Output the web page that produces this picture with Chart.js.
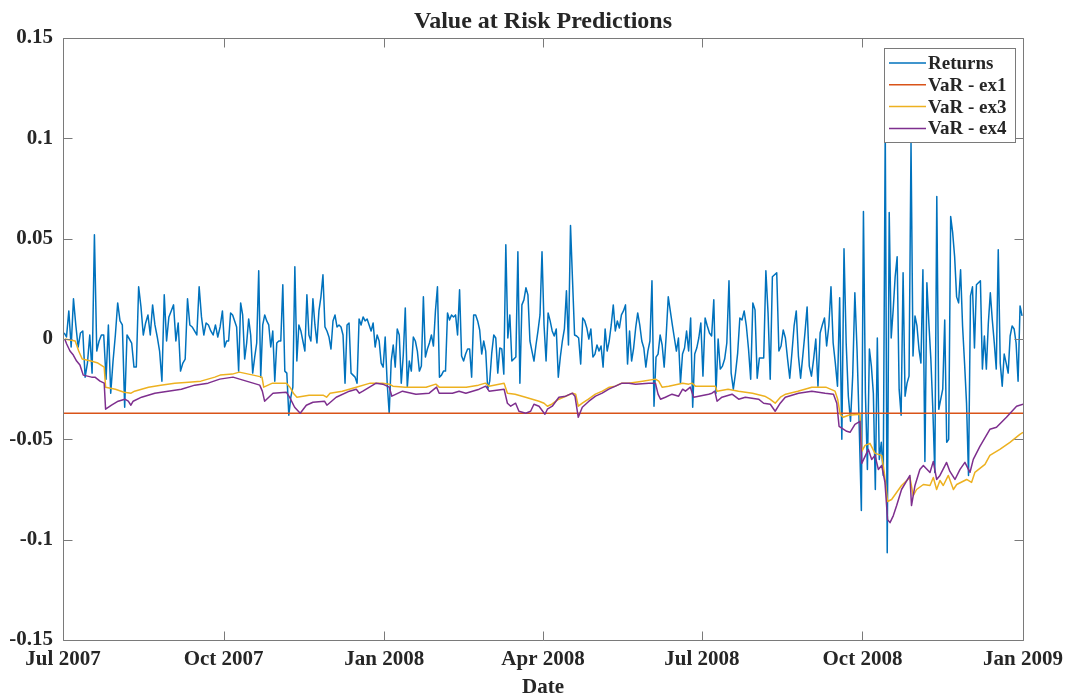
<!DOCTYPE html>
<html>
<head>
<meta charset="utf-8">
<script src="https://cdn.jsdelivr.net/npm/chart.js@4.4.1/dist/chart.umd.min.js"></script>
<style>
html,body{margin:0;padding:0;background:#fff;}
#wrap{width:1070px;height:698px;}
</style>
</head>
<body>
<div id="wrap"><canvas id="c" width="1070" height="698"></canvas></div>
<script>
// ---------- data (days counted from 1 Jul 2007) ----------
const xTickDays = [0, 92, 184, 275, 366, 458, 550];
const xTickLabels = ['Jul 2007', 'Oct 2007', 'Jan 2008', 'Apr 2008', 'Jul 2008', 'Oct 2008', 'Jan 2009'];
const yTickValues = [-0.15, -0.1, -0.05, 0, 0.05, 0.1, 0.15];
const yTickLabels = ['-0.15', '-0.1', '-0.05', '0', '0.05', '0.1', '0.15'];
const quarterStarts = [0, 92, 184, 275, 366, 458];
const quarterEnds = [92, 184, 275, 366, 458, 550];

// daily returns, one array per quarter
const returns2007Q3 = [0.003, 0.001, 0.014, -0.004, 0.020, 0.007, -0.004, 0.003, 0.004, -0.019,
  -0.012, 0.002, -0.017, 0.052, -0.006, -0.001, 0.002, 0.002, -0.020, 0.007,
  -0.027, -0.011, 0.002, 0.018, 0.009, 0.007, -0.034, 0.002, 0.000, -0.002,
  -0.014, -0.014, 0.026, 0.016, 0.002, 0.008, 0.012, 0.002, 0.017, 0.007,
  0.001, -0.006, -0.021, 0.022, -0.001, 0.011, 0.014, 0.017, -0.001, 0.008,
  -0.016, -0.012, -0.010, 0.020, 0.007, 0.006, 0.004, 0.002, 0.026, 0.011,
  0.002, 0.008, 0.007, 0.004, 0.002, 0.007, 0.001, 0.006, 0.014];
const returns2007Q4 = [-0.004, -0.001, -0.001, 0.013, 0.012, 0.009, 0.006, -0.016, 0.018, 0.012,
  -0.010, -0.002, 0.010, 0.002, -0.017, -0.009, -0.002, 0.034, -0.019, 0.007,
  0.012, 0.009, 0.007, -0.004, 0.004, -0.021, -0.002, -0.001, -0.001, 0.027,
  -0.016, -0.017, -0.038, -0.029, -0.024, 0.036, -0.011, 0.007, 0.004, -0.001,
  -0.006, 0.022, 0.002, -0.001, 0.020, 0.007, -0.002, 0.014, 0.021, 0.032,
  0.006, 0.004, 0.001, -0.005, 0.009, 0.012, 0.006, 0.007, 0.006, 0.002,
  -0.022, 0.007, 0.008, -0.017, -0.018, -0.019, -0.022, 0.010, 0.007, 0.011,
  0.009, 0.010, 0.007, 0.004, 0.008, -0.004, 0.002, -0.001, -0.012, -0.014];
const returns2008Q1 = [0.001, -0.022, -0.037, -0.011, -0.003, -0.014, 0.005, 0.002, -0.022, -0.008,
  0.0155, -0.024, -0.011, -0.016, 0.001, -0.001, -0.006, -0.016, -0.0135, 0.021,
  -0.009, -0.005, -0.002, 0.002, -0.0035, 0.014, 0.026, -0.019, -0.018, -0.016,
  -0.016, 0.013, 0.0095, 0.012, 0.011, 0.012, 0.002, 0.0245, -0.0085, -0.011,
  -0.0075, -0.005, -0.005, -0.019, 0.012, 0.012, 0.009, 0.0045, -0.0075, -0.001,
  -0.006, -0.025, -0.021, -0.007, 0.002, 0.0005, -0.017, -0.0045, -0.005, -0.0175,
  0.047, 0.0005, 0.012, -0.011, -0.010, -0.009, 0.0435, -0.022, 0.017, 0.0195,
  0.0255, 0.022, -0.001, -0.006, -0.011, -0.003, 0.004, 0.012, 0.0435];
const returns2008Q2 = [0.007, -0.011, 0.013, 0.009, 0.004, 0.0015, 0.005, -0.019, -0.009, -0.001,
  0.005, 0.024, -0.003, 0.0565, 0.029, 0.002, 0.0015, 0.0005, -0.0125, 0.0105,
  0.009, 0.0055, 0.000, 0.005, -0.009, -0.0075, -0.003, -0.006, -0.0035, -0.014,
  0.005, -0.006, -0.001, 0.007, 0.017, 0.004, 0.009, 0.0055, 0.012, 0.014,
  0.017, -0.0125, 0.004, -0.011, -0.0045, 0.0055, 0.013, 0.007, -0.001, -0.0045,
  -0.014, -0.006, -0.001, 0.029, -0.0335, -0.009, -0.0075, 0.002, -0.003, -0.014,
  0.002, 0.021, 0.014, 0.007, 0.0005, -0.006, 0.0005, -0.022, -0.0075, -0.0045,
  0.004, -0.006, 0.0105, -0.034, -0.0075, -0.0045, 0.0005, 0.008];
const returns2008Q3 = [-0.0185, 0.0105, 0.0065, 0.003, 0.0015, 0.0195, -0.027, 0.000, -0.015, -0.0135,
  -0.010, -0.002, 0.029, -0.017, -0.025, -0.017, -0.007, 0.0105, 0.0095, 0.014,
  0.0065, -0.005, -0.020, 0.018, 0.0145, -0.0195, -0.0095, -0.0095, -0.0095, 0.034,
  0.013, -0.020, 0.031, 0.032, 0.033, -0.006, -0.0035, 0.0045, 0.0005, -0.010,
  -0.0195, -0.007, 0.0065, 0.014, -0.0085, -0.0195, -0.0085, 0.003, 0.016, -0.0135,
  -0.0185, -0.010, 0.000, -0.0235, 0.003, 0.007, 0.0105, -0.0035, 0.0065, 0.026,
  -0.002, -0.012, -0.0235, 0.0205, -0.050, 0.045, -0.002, -0.0285, -0.041, -0.0185,
  0.023, -0.005, -0.043, -0.0855];
const returns2008Q4 = [0.0635, -0.027, -0.065, -0.005, -0.0135, -0.027, -0.075, 0.0005, -0.060, -0.0515,
  -0.068, 0.106, -0.1065, 0.063, 0.0005, 0.0145, 0.031, 0.041, -0.025,
  -0.038, 0.033, -0.0285, -0.022, -0.0185, 0.0975, -0.0085, 0.0115, 0.0065, -0.005,
  -0.012, 0.0345, -0.061, 0.028, 0.008, -0.010, -0.035, -0.0665, 0.071, -0.035,
  -0.030, -0.025, 0.0095, -0.0515, -0.050, 0.061, 0.053, 0.041, 0.021, 0.018,
  0.0345, 0.0065, -0.012, -0.032, -0.068, 0.0215, 0.026, -0.0045, 0.027, 0.028,
  0.029, -0.015, 0.0015, -0.015, 0.008, 0.023, 0.0095, -0.002, -0.015, 0.0445,
  -0.012, -0.0235, -0.0075, -0.012, -0.017, 0.0015, 0.0065, 0.005, -0.002, -0.021,
  0.0165, 0.0115];

// VaR - ex1: constant level
const var1Days = [0, 550];
const var1Vals = [-0.037, -0.037];

// VaR - ex3
const var3Days = [1, 7, 9, 11, 16, 20, 23.6, 24.4, 30, 35, 39, 41, 49, 56, 64, 72, 79, 87,
  90, 97, 101, 109, 114, 115, 120, 128, 130, 132, 134, 141, 149, 151, 153, 160, 168, 176,
  183, 187, 189, 196, 208, 213.6, 215.5, 223, 231, 238, 242, 244, 252.7, 254.6, 259, 265, 272.7,
  275.6, 277.5, 280, 284, 288, 292, 293.7, 295.2, 297.5, 301, 305, 309, 313, 316.5, 320, 324,
  332, 339.4, 341.3, 343.2, 347, 355, 358.5, 360.4, 362.3, 370, 373.7, 374.7, 381, 387, 395,
  402, 405, 408, 411, 414, 421, 429, 437, 442.3, 443.8, 445.2, 447, 450, 456.6, 457.6, 459.5,
  462.3, 465.2, 469, 470.5, 472.4, 474.7, 480.4, 485.2, 487.1, 489, 492.9, 496.7, 498.6, 500.5,
  502.4, 504.3, 507.2, 510.1, 512, 517.7, 520.5, 522.4, 528.2, 531, 536.7, 542.5, 548.2, 550];
const var3Vals = [0.000, -0.001, -0.006, -0.010, -0.011, -0.012, -0.014, -0.024, -0.025, -0.0265, -0.027, -0.026, -0.024, -0.023, -0.022, -0.0215, -0.021, -0.019,
  -0.018, -0.0175, -0.0165, -0.018, -0.019, -0.024, -0.022, -0.022, -0.024, -0.027, -0.029, -0.028, -0.028, -0.029, -0.027, -0.026, -0.024, -0.022,
  -0.022, -0.0225, -0.0235, -0.024, -0.024, -0.0225, -0.024, -0.024, -0.024, -0.023, -0.022, -0.0235, -0.022, -0.027, -0.0275, -0.029, -0.031,
  -0.032, -0.0335, -0.0325, -0.030, -0.0285, -0.027, -0.0275, -0.0335, -0.032, -0.030, -0.0275, -0.026, -0.024, -0.0235, -0.022, -0.022,
  -0.021, -0.020, -0.021, -0.024, -0.0235, -0.022, -0.0225, -0.022, -0.0235, -0.0235, -0.0235, -0.026, -0.025, -0.026, -0.027,
  -0.0285, -0.030, -0.032, -0.029, -0.0275, -0.026, -0.024, -0.024, -0.026, -0.030, -0.0375, -0.039, -0.038, -0.0375, -0.056, -0.053,
  -0.052, -0.057, -0.058, -0.0665, -0.081, -0.080, -0.073, -0.069, -0.078, -0.075, -0.0725, -0.073, -0.069, -0.075,
  -0.0705, -0.073, -0.068, -0.075, -0.0725, -0.070, -0.0715, -0.0665, -0.0625, -0.058, -0.055, -0.0515, -0.0475, -0.0465];

// VaR - ex4
const var4Days = [1, 2.1, 4, 5.9, 7.8, 9.7, 11.6, 16.4, 18.3, 21.2, 23.6, 24.4, 27.8, 31.6, 35.4, 37.4, 38.9, 40.2,
  45, 52.6, 60.2, 67.8, 75.5, 83.1, 89.8, 97.4, 101.2, 108.9, 112.7, 114.2, 115.5, 120.3, 127.9, 129.8, 132.7, 135.9,
  139.4, 143.2, 149.8, 151.2, 156.5, 164.1, 168, 169.8, 171.8, 179.4, 183.2, 186.9, 188.4, 194.5, 202.2, 209.8, 214,
  215.5, 223.1, 226.9, 230.8, 238.4, 242.2, 244.1, 252.7, 254.6, 256.5, 259.3, 261.2, 265.1, 267.9, 269.8, 272.7,
  276.1, 277.5, 280.3, 284.1, 288, 291.8, 293.3, 295.2, 297.5, 301.3, 305.1, 308.9, 312.7, 316.5, 320.3, 324.2, 328,
  335.6, 339.4, 340.9, 342.3, 345.1, 348.9, 352.7, 355, 356.6, 359.4, 361.3, 364.2, 369.9, 371.8, 373.4, 374.7, 377.5,
  383.3, 387.1, 390.9, 398.5, 401.4, 405.2, 408, 410.9, 413.8, 421.4, 429, 436.6, 441.4, 443.3, 444.6, 449, 450.9,
  453.7, 456.6, 457.6, 461.4, 463.3, 465.2, 467.1, 469, 470.9, 472.4, 473.8, 475.7, 477.6, 480.4, 485.2, 486.1, 488.1,
  490.9, 492.9, 496.7, 498.6, 500.5, 502.4, 506.2, 508.1, 511, 513.9, 516.7, 519.6, 521.5, 525.3, 531, 534.8, 540.5,
  546.3, 550];
const var4Vals = [0.000, -0.0025, -0.006, -0.008, -0.011, -0.013, -0.018, -0.019, -0.019, -0.021, -0.022, -0.035, -0.033, -0.031, -0.030, -0.031, -0.033, -0.031,
  -0.029, -0.027, -0.026, -0.025, -0.023, -0.022, -0.020, -0.019, -0.020, -0.022, -0.023, -0.026, -0.031, -0.027, -0.0265, -0.029, -0.034, -0.037,
  -0.033, -0.0315, -0.031, -0.033, -0.029, -0.026, -0.025, -0.027, -0.026, -0.022, -0.0225, -0.024, -0.0285, -0.026, -0.0275, -0.027, -0.024,
  -0.027, -0.027, -0.026, -0.027, -0.025, -0.0235, -0.026, -0.025, -0.032, -0.0335, -0.032, -0.036, -0.037, -0.036, -0.0325, -0.0335,
  -0.0375, -0.035, -0.0335, -0.029, -0.0285, -0.027, -0.0285, -0.039, -0.034, -0.031, -0.0285, -0.027, -0.025, -0.0235, -0.022, -0.022, -0.0225,
  -0.022, -0.022, -0.0275, -0.030, -0.029, -0.0275, -0.0285, -0.025, -0.026, -0.024, -0.029, -0.0285, -0.0275, -0.027, -0.026, -0.031, -0.029,
  -0.0275, -0.030, -0.029, -0.030, -0.032, -0.0325, -0.036, -0.032, -0.029, -0.027, -0.026, -0.027, -0.0275, -0.032, -0.0435, -0.046, -0.0465,
  -0.0425, -0.041, -0.062, -0.055, -0.060, -0.058, -0.065, -0.063, -0.0715, -0.090, -0.0915, -0.088, -0.083, -0.075, -0.068, -0.083, -0.073,
  -0.065, -0.063, -0.0665, -0.061, -0.070, -0.068, -0.0615, -0.066, -0.070, -0.065, -0.0615, -0.0665, -0.060, -0.0535, -0.045, -0.044, -0.039,
  -0.0335, -0.0325];

// ---------- building the chart ----------
const fontFamily = "'Liberation Serif', 'Times New Roman', serif";
Chart.defaults.font.family = fontFamily;
Chart.defaults.font.weight = 'bold';
Chart.defaults.color = '#262626';

const returnQuarters = [returns2007Q3, returns2007Q4, returns2008Q1, returns2008Q2, returns2008Q3, returns2008Q4];
function dailyPoints(quarters) {
  const pts = [];
  quarters.forEach((vals, q) => {
    const s = quarterStarts[q], len = quarterEnds[q] - s;
    vals.forEach((v, i) => pts.push({x: s + (i + 0.5) * len / vals.length, y: v}));
  });
  return pts;
}
function zipPoints(days, vals) { return days.map((d, i) => ({x: d, y: vals[i]})); }

const axesBox = {
  id: 'axesBox',
  afterDatasetsDraw(chart) {
    const {ctx, chartArea: a, scales} = chart;
    const x = scales.x, y = scales.y;
    ctx.save();
    ctx.strokeStyle = '#7a7a7a';
    ctx.lineWidth = 1;
    ctx.beginPath();
    const L = Math.round(a.left) + 0.5, R = Math.round(a.right) + 0.5, T = Math.round(a.top) + 0.5, B = Math.round(a.bottom) + 0.5;
    ctx.moveTo(L, T); ctx.lineTo(R, T); ctx.lineTo(R, B); ctx.lineTo(L, B); ctx.closePath();
    const tl = 9;
    xTickDays.forEach(d => {
      const px = Math.round(x.getPixelForValue(d)) + 0.5;
      ctx.moveTo(px, B); ctx.lineTo(px, B - tl);
      ctx.moveTo(px, T); ctx.lineTo(px, T + tl);
    });
    yTickValues.forEach(v => {
      const py = Math.round(y.getPixelForValue(v)) + 0.5;
      ctx.moveTo(L, py); ctx.lineTo(L + tl, py);
      ctx.moveTo(R, py); ctx.lineTo(R - tl, py);
    });
    ctx.stroke();
    ctx.restore();
  }
};

const insetLegend = {
  id: 'insetLegend',
  afterDraw(chart) {
    const {ctx, chartArea: a} = chart;
    const w = 131, h = 94;
    const left = Math.round(a.right) - 8 - w, top = Math.round(a.top) + 10;
    ctx.save();
    ctx.fillStyle = '#ffffff';
    ctx.fillRect(left, top, w, h);
    ctx.strokeStyle = '#7a7a7a';
    ctx.lineWidth = 1;
    ctx.strokeRect(left + 0.5, top + 0.5, w, h);
    ctx.font = 'bold 19px ' + fontFamily;
    ctx.textBaseline = 'middle';
    ctx.textAlign = 'left';
    chart.data.datasets.forEach((ds, i) => {
      const cy = top + 15 + i * 21.8;
      ctx.strokeStyle = ds.borderColor;
      ctx.lineWidth = 1.5;
      ctx.beginPath(); ctx.moveTo(left + 5, cy); ctx.lineTo(left + 42, cy); ctx.stroke();
      ctx.fillStyle = '#262626';
      ctx.fillText(ds.label, left + 44, cy + 1);
    });
    ctx.restore();
  }
};

new Chart(document.getElementById('c'), {
  type: 'line',
  data: {
    datasets: [
      {label: 'Returns', data: dailyPoints(returnQuarters), borderColor: '#0072BD', order: 3},
      {label: 'VaR - ex1', data: zipPoints(var1Days, var1Vals), borderColor: '#D95319', order: 2},
      {label: 'VaR - ex3', data: zipPoints(var3Days, var3Vals), borderColor: '#EDB120', order: 1},
      {label: 'VaR - ex4', data: zipPoints(var4Days, var4Vals), borderColor: '#7E2F8E', order: 0}
    ]
  },
  options: {
    responsive: false,
    animation: false,
    devicePixelRatio: 1,
    layout: {padding: {top: 0, right: 45, bottom: 0, left: 0}},
    elements: {
      line: {borderWidth: 1.5, tension: 0, fill: false, borderJoinStyle: 'round'},
      point: {radius: 0, hoverRadius: 0}
    },
    plugins: {
      legend: {display: false},
      tooltip: {enabled: false},
      title: {
        display: true,
        text: 'Value at Risk Predictions',
        fullSize: false,
        font: {size: 24, weight: 'bold', family: fontFamily},
        color: '#262626',
        padding: {top: 7.6, bottom: 1.6}
      }
    },
    scales: {
      x: {
        type: 'linear',
        min: 0,
        max: 550,
        afterBuildTicks: s => { s.ticks = xTickDays.map(v => ({value: v})); },
        afterFit: s => { s.height = 58; },
        ticks: {
          autoSkip: false, maxRotation: 0, padding: 7,
          font: {size: 21, weight: 'bold', family: fontFamily},
          color: '#262626',
          callback: v => xTickLabels[xTickDays.indexOf(v)]
        },
        grid: {display: false, drawTicks: false},
        border: {display: false},
        title: {display: true, text: 'Date', font: {size: 21, weight: 'bold', family: fontFamily}, color: '#262626', padding: {top: 0, bottom: -2}}
      },
      y: {
        type: 'linear',
        min: -0.15,
        max: 0.15,
        afterBuildTicks: s => { s.ticks = yTickValues.map(v => ({value: v})); },
        afterFit: s => { s.width = 63; },
        ticks: {
          padding: 10,
          font: {size: 21, weight: 'bold', family: fontFamily},
          color: '#262626',
          callback: v => yTickLabels[yTickValues.indexOf(v)]
        },
        grid: {display: false, drawTicks: false},
        border: {display: false}
      }
    }
  },
  plugins: [axesBox, insetLegend]
});
</script>
</body>
</html>
